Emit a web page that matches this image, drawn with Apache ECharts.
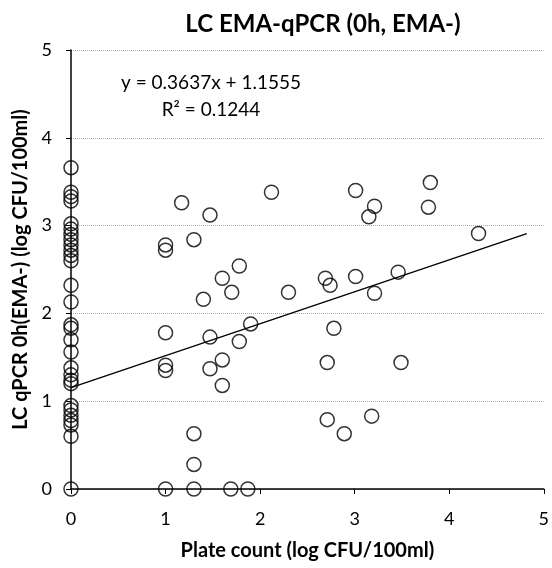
<!DOCTYPE html>
<html>
<head>
<meta charset="utf-8">
<script src="https://cdn.jsdelivr.net/npm/echarts@6/dist/echarts.min.js"></script>
<style>html,body{margin:0;padding:0;background:#fff}#c{width:552px;height:568px}</style>
</head>
<body>
<div id="c"></div>
<script>
var titleText = 'LC EMA-qPCR (0h, EMA-)';
var xAxisName = 'Plate count (log CFU/100ml)';
var yAxisName = 'LC qPCR 0h(EMA-) (log CFU/100ml)';
var equationText = 'y = 0.3637x + 1.1555';
var r2Text = 'R\u00B2 = 0.1244';

var plateCount = [
  0,0,0,0,0,0,0,0,0,0,0,0,0,0,0,0,0,0,0,0,0,0,0,0,0,0,0,0,0,
  1.17,1.47,2.12,1.0,1.0,1.30,1.78,1.60,1.70,1.40,2.30,2.69,2.74,1.90,1.0,1.47,1.78,2.78,
  1.0,1.0,1.60,1.47,1.60,2.71,2.71,2.89,1.30,1.30,1.0,1.30,1.69,1.87,
  3.01,3.80,3.21,3.15,3.78,4.31,3.01,3.21,3.46,3.49,3.18
];
var qpcr = [
  3.66,3.38,3.33,3.28,3.02,2.96,2.90,2.84,2.78,2.72,2.66,2.60,2.32,2.13,1.87,1.83,1.70,1.56,1.38,1.30,1.24,1.20,0.95,0.90,0.84,0.78,0.73,0.60,0,
  3.26,3.12,3.38,2.78,2.72,2.84,2.54,2.40,2.24,2.16,2.24,2.40,2.32,1.88,1.78,1.73,1.68,1.83,
  1.41,1.35,1.47,1.37,1.18,1.44,0.79,0.63,0.63,0.28,0,0,0,0,
  3.40,3.49,3.22,3.10,3.21,2.91,2.42,2.23,2.47,1.44,0.83
];
var trendX = [0, 4.82];
var trendY = [1.1555, 2.9085];

var pts = plateCount.map(function(x,i){return [x, qpcr[i]];});
var trend = trendX.map(function(x,i){return [x, trendY[i]];});

var font = 'Lato, "Open Sans", sans-serif';
var chart = echarts.init(document.getElementById('c'), null, {renderer:'canvas'});
chart.setOption({
  animation:false,
  backgroundColor:'#ffffff',
  grid:{left:71,right:5,top:50,bottom:79,containLabel:false},
  xAxis:{type:'value',min:0,max:5,interval:1,
    name:xAxisName,nameLocation:'middle',nameGap:52,
    nameTextStyle:{fontFamily:font,fontWeight:'bold',fontSize:20,color:'#000'},
    axisLine:{show:true,onZero:false,lineStyle:{color:'#000',width:1.5}},
    axisTick:{show:true,inside:false,length:5,lineStyle:{color:'#000'}},
    axisLabel:{fontFamily:font,fontSize:18,color:'#000',margin:21},
    splitLine:{show:false}},
  yAxis:{type:'value',min:0,max:5,interval:1,
    name:yAxisName,nameLocation:'middle',nameGap:37,
    nameTextStyle:{fontFamily:font,fontWeight:'bold',fontSize:20,color:'#000'},
    axisLine:{show:true,onZero:false,lineStyle:{color:'#000',width:1.5}},
    axisTick:{show:true,inside:false,length:5,lineStyle:{color:'#000'}},
    axisLabel:{fontFamily:font,fontSize:18,color:'#000',margin:19},
    splitLine:{show:true,lineStyle:{color:'#aaa',type:'dotted',width:1}}},
  graphic:[
    {type:'text',x:323,y:24,style:{text:titleText,fontFamily:font,fontWeight:'bold',fontSize:24,fill:'#000',align:'center',verticalAlign:'middle'}},
    {type:'text',x:211,y:83,style:{text:equationText,fontFamily:font,fontSize:19,fill:'#000',align:'center',verticalAlign:'middle'}},
    {type:'text',x:211,y:110,style:{text:r2Text,fontFamily:font,fontSize:19,fill:'#000',align:'center',verticalAlign:'middle'}}
  ],
  series:[
    {type:'line',data:trend,showSymbol:false,symbol:'none',lineStyle:{color:'#000',width:1.3},z:3},
    {type:'scatter',data:pts,symbol:'circle',symbolSize:14,
      itemStyle:{color:'rgba(0,0,0,0)',borderColor:'#000',borderWidth:1.5},z:4}
  ]
});
</script>
</body>
</html>
